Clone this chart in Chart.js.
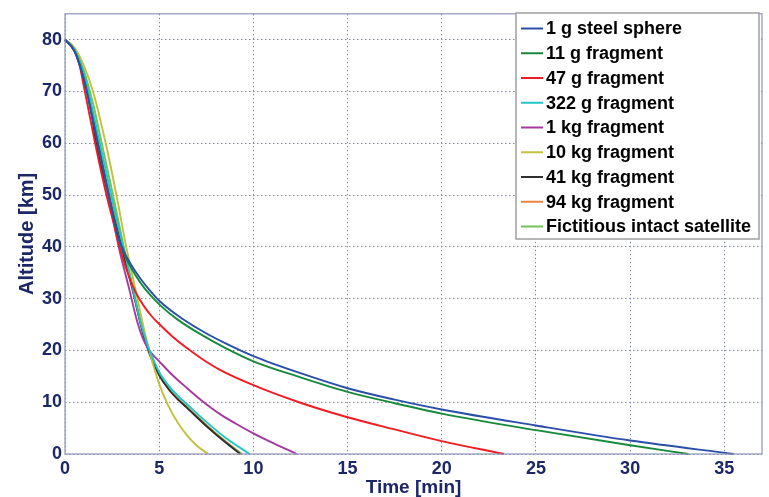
<!DOCTYPE html>
<html>
<head>
<meta charset="utf-8">
<script src="https://cdn.jsdelivr.net/npm/chart.js@4/dist/chart.umd.min.js"></script>
<style>
  html, body { margin: 0; padding: 0; background: #fff; }
  #wrap { width: 769px; height: 497px; position: relative; }
</style>
</head>
<body>
<div id="wrap"><canvas id="chart-descent"></canvas></div>
<script>
// ── Data (time in min, altitude in km) ───────────────
const labels = ['1 g steel sphere', '11 g fragment', '47 g fragment', '322 g fragment', '1 kg fragment',
  '10 kg fragment', '41 kg fragment', '94 kg fragment', 'Fictitious intact satellite'];

const steelT = [0, 0.5, 1, 1.5, 2, 2.5, 2.8, 3.1, 3.5, 4, 4.5, 5, 6, 7.3, 8.5, 10, 12.5, 15, 17.5, 20, 25, 30, 35.5];
const steelH = [80, 77.8, 72.3, 64, 55.5, 47, 42.3, 39.3, 36.6, 33.9, 31.6, 29.6, 26.7, 23.7, 21.4, 18.9, 15.6, 12.7, 10.5, 8.6, 5.5, 2.6, 0];

const frag11T = [0, 0.5, 1, 1.5, 2, 2.5, 2.8, 3.1, 3.5, 4, 4.5, 5, 6, 7.3, 8.5, 10, 12.5, 15, 17.5, 20, 25, 30, 33.1];
const frag11H = [80, 77.8, 72.5, 64.2, 55.6, 47, 42.2, 39, 36, 33.1, 30.8, 28.9, 25.9, 22.9, 20.5, 17.9, 14.8, 12.0, 9.8, 7.8, 4.6, 1.7, 0];

const frag47T = [0, 0.5, 0.75, 1, 1.3, 1.6, 2.2, 2.6, 2.9, 3.2, 3.5, 3.8, 4.2, 4.6, 5, 5.7, 6.45, 7.3, 8.2, 10, 12.5, 15, 17.5, 20, 23.3];
const frag47H = [80, 77.8, 75.4, 71, 65.5, 60, 50, 44.3, 40, 36.3, 33.3, 30.9, 28.5, 26.6, 25.1, 22.7, 20.5, 18.3, 16.3, 13.3, 9.9, 7.1, 4.75, 2.5, 0];

const frag322T = [0, 0.5, 1, 1.4, 1.85, 2.45, 3.1, 3.62, 4.0, 4.33, 4.65, 5, 5.5, 6, 6.45, 7.5, 8.5, 9.8];
const frag322H = [80, 78.1, 73.5, 67.5, 60, 50, 40, 31.6, 25.6, 21.6, 18.6, 15.8, 13.2, 11.2, 9.7, 6.2, 3.2, 0];

const frag1kT = [0, 0.5, 1, 1.5, 1.75, 2.3, 2.85, 3.44, 3.8, 4.1, 4.4, 4.7, 5, 5.6, 6.45, 7.3, 8.23, 9.1, 10, 11, 12.3];
const frag1kH = [80, 78, 73, 65, 60.5, 50, 40, 31.4, 26, 22.6, 20.4, 19, 17.9, 15.6, 12.8, 10.2, 7.7, 5.8, 4.0, 2.2, 0];

const frag10kT = [0, 0.5, 1, 1.49, 2.16, 2.73, 3.25, 3.76, 4.33, 4.7, 5, 5.5, 6, 6.5, 7, 7.6];
const frag10kH = [80, 78.5, 75, 70, 60, 50, 40, 31.4, 22, 17, 13.5, 9.2, 6.0, 3.5, 1.6, 0];

const frag41kT = [0, 0.5, 1, 1.4, 1.65, 2.3, 3.0, 3.6, 4.0, 4.3, 4.6, 5, 5.5, 6, 6.45, 7.5, 8.5, 9.3];
const frag41kH = [80, 78, 73, 66, 60, 50, 40, 31.5, 25.3, 21.3, 18.3, 15.2, 12.5, 10.5, 9.0, 5.4, 2.3, 0];

const frag94kT = [0, 0.5, 1, 1.4, 1.72, 2.38, 3.05, 3.62, 4.02, 4.32, 4.62, 5, 5.5, 6, 6.45, 7.5, 8.5, 9.35];
const frag94kH = [80, 78, 73.2, 66.6, 60, 50, 40, 31.5, 25.3, 21.4, 18.4, 15.3, 12.6, 10.6, 9.1, 5.5, 2.4, 0];

const intactT = [0, 0.5, 1, 1.5, 1.95, 2.55, 3.12, 3.64, 4.03, 4.33, 4.63, 5, 5.5, 6, 6.45, 7.5, 8.5, 9.4];
const intactH = [80, 78.3, 74, 67.5, 60, 50, 40, 31.5, 25.3, 21.4, 18.5, 15.4, 12.7, 10.7, 9.2, 5.6, 2.5, 0];

const xTicks = [0, 5, 10, 15, 20, 25, 30, 35];
const yTicks = [0, 10, 20, 30, 40, 50, 60, 70, 80];

const colors = ['#2b4fa8', '#168a3a', '#f01c24', '#22c5c8', '#a43a9f', '#c2c03c', '#2f2f2f', '#e8873c', '#72c454'];
const series = [[steelT, steelH], [frag11T, frag11H], [frag47T, frag47H], [frag322T, frag322H], [frag1kT, frag1kH],
  [frag10kT, frag10kH], [frag41kT, frag41kH], [frag94kT, frag94kH], [intactT, intactH]];

const NAVY = '#1b2766';
const FONT = '"Liberation Sans", Arial, sans-serif';

// ── Box + legend drawn inside the plot ───────────────
const boxLegend = {
  id: 'boxLegend',
  afterDraw(chart) {
    const { ctx, chartArea: a } = chart;
    ctx.save();
    ctx.strokeStyle = '#8f95b5';
    ctx.lineWidth = 1.2;
    ctx.strokeRect(a.left, a.top, a.right - a.left, a.bottom - a.top);

    // legend
    const lx = 516, ly = 13, lw = 243, lh = 226, step = 24.75;
    ctx.fillStyle = '#fff';
    ctx.fillRect(lx, ly, lw, lh);
    ctx.strokeStyle = '#a0a0a0';
    ctx.lineWidth = 1.5;
    ctx.strokeRect(lx, ly, lw, lh);
    ctx.font = 'bold 18px ' + FONT;
    ctx.textBaseline = 'middle';
    chart.data.datasets.forEach((ds, i) => {
      const y = ly + 15.5 + i * step;
      ctx.strokeStyle = ds.borderColor;
      ctx.lineWidth = 2;
      ctx.beginPath(); ctx.moveTo(lx + 5, y); ctx.lineTo(lx + 27, y); ctx.stroke();
      ctx.fillStyle = '#000';
      ctx.fillText(ds.label, lx + 30, y + 1);
    });
    ctx.restore();
  }
};

new Chart(document.getElementById('chart-descent'), {
  type: 'line',
  data: {
    datasets: series.map(([t, h], i) => ({
      label: labels[i],
      data: t.map((x, j) => ({ x, y: h[j] })),
      borderColor: colors[i],
      borderWidth: 1.9,
      pointRadius: 0,
      fill: false,
      cubicInterpolationMode: 'monotone',
      clip: false
    }))
  },
  options: {
    responsive: true,
    maintainAspectRatio: false,
    animation: false,
    layout: { padding: { top: 9, right: 7, left: 0, bottom: 0 } },
    plugins: { legend: { display: false }, tooltip: { enabled: false } },
    scales: {
      x: {
        type: 'linear', min: 0, max: 37,
        afterFit(s) { s.height = 43; },
        afterBuildTicks(s) { s.ticks = xTicks.map(v => ({ value: v })); },
        grid: { color: '#8088b0', lineWidth: 1, drawTicks: false },
        border: { display: false, dash: [1.5, 2.5] },
        ticks: { color: NAVY, padding: 4, font: { family: FONT, size: 18, weight: 'bold' } },
        title: { display: true, text: 'Time [min]', color: NAVY, padding: { top: 0, bottom: 0 },
          font: { family: FONT, size: 19, weight: 'bold', lineHeight: 1 } }
      },
      y: {
        type: 'linear', min: 0, max: 85,
        afterFit(s) { s.width = 65; },
        afterBuildTicks(s) { s.ticks = yTicks.map(v => ({ value: v })); },
        grid: { color: '#8088b0', lineWidth: 1, drawTicks: false },
        border: { display: false, dash: [1.5, 2.5] },
        ticks: { color: NAVY, padding: 3, font: { family: FONT, size: 18, weight: 'bold' } },
        title: { display: true, text: 'Altitude [km]', color: NAVY, padding: { top: 17, bottom: 0 },
          font: { family: FONT, size: 20, weight: 'bold', lineHeight: 1 } }
      }
    }
  },
  plugins: [boxLegend]
});
</script>
</body>
</html>
